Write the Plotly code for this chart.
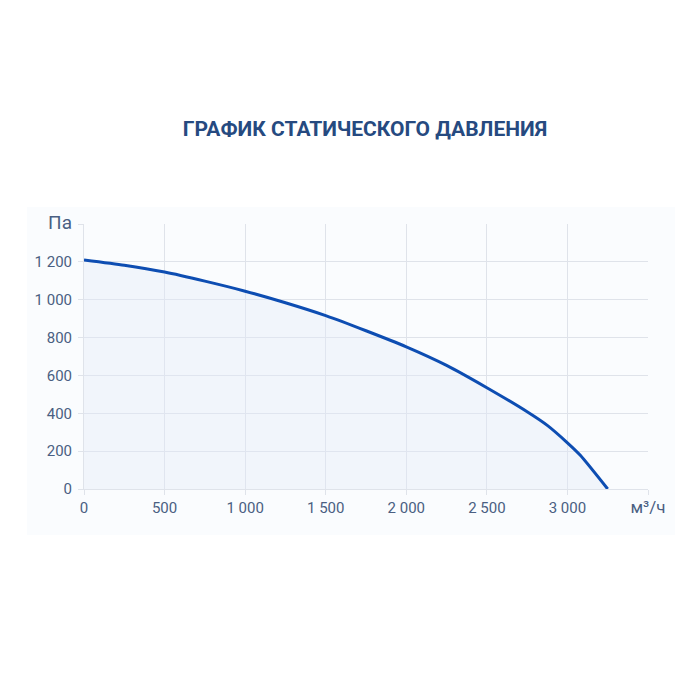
import plotly.graph_objects as go

# расход воздуха (м³/ч) и статическое давление (Па)
flow = [0, 250, 500, 750, 1000, 1250, 1500, 1750, 2000, 2250, 2500, 2750, 2875, 3000, 3080, 3250]
pressure = [1210, 1182, 1146, 1098, 1045, 984, 916, 836, 751, 653, 535, 408, 336, 244, 178, 0]

x_ticks = [0, 500, 1000, 1500, 2000, 2500, 3000, 3500]
x_labels = ["0", "500", "1 000", "1 500", "2 000", "2 500", "3 000",
            "<span style='font-size:17px'>м³/ч</span>"]
y_ticks = [0, 200, 400, 600, 800, 1000, 1200, 1400]
y_labels = ["0", "200", "400", "600", "800", "1 000", "1 200",
            "<span style='font-size:19px'>Па</span>"]

fig = go.Figure()

fig.add_trace(go.Scatter(
    x=flow,
    y=pressure,
    mode='lines',
    line=dict(color='#0d4db2', width=3, shape='spline', smoothing=0.6),
    fill='tozeroy',
    fillcolor='rgba(225, 233, 246, 0.38)',
    hoverinfo='skip'
))

# светлая подложка под графиком
fig.add_shape(
    type='rect', xref='paper', yref='paper',
    x0=-0.101, x1=1.048, y0=-0.174, y1=1.064,
    fillcolor='#fafcfe', line=dict(width=0), layer='below'
)

tick_font = dict(family='Roboto', size=15, color='#4a5f82')

fig.update_layout(
    width=700, height=700,
    margin=dict(l=76, r=60, t=216, b=219),
    paper_bgcolor='white',
    plot_bgcolor='rgba(0,0,0,0)',
    showlegend=False,
    title=dict(
        text='<b>ГРАФИК СТАТИЧЕСКОГО ДАВЛЕНИЯ</b>',
        x=0.51, xanchor='center',
        y=0.828, yanchor='middle',
        font=dict(family='Roboto', size=21, color='#264a80')
    )
)

fig.update_xaxes(
    range=[0, 3500],
    tickvals=x_ticks, ticktext=x_labels,
    tickfont=tick_font,
    showgrid=True, gridcolor='#dfe3ea', gridwidth=1,
    zeroline=False,
    showline=True, linecolor='#dfe3ea',
    ticks='outside', ticklen=5, tickcolor='#dfe3ea',
    fixedrange=True
)
fig.update_yaxes(
    range=[0, 1400],
    tickvals=y_ticks, ticktext=y_labels,
    tickfont=tick_font,
    showgrid=True, gridcolor='#dfe3ea', gridwidth=1,
    zeroline=False,
    showline=True, linecolor='#dfe3ea',
    ticks='outside', ticklen=5, tickcolor='#dfe3ea',
    ticklabelstandoff=3,
    fixedrange=True
)

fig.write_html("out.html")
